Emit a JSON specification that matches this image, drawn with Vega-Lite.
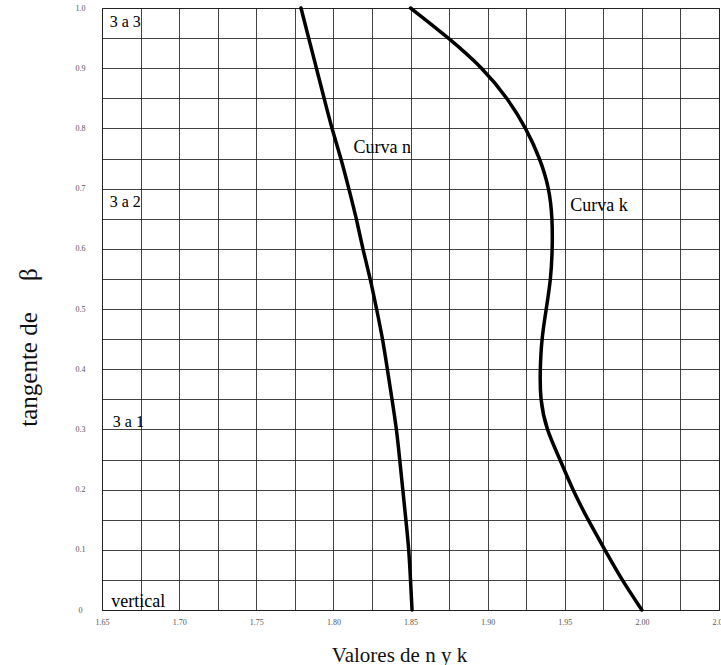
{
  "$schema": "https://vega.github.io/schema/vega-lite/v6.json",
  "width": 617,
  "height": 602,
  "autosize": {"type": "none"},
  "padding": {"left": 102, "top": 8, "right": 2, "bottom": 55},
  "background": "white",
  "config": {
    "view": {"stroke": "#222", "strokeWidth": 1},
    "font": "Liberation Serif"
  },
  "encoding": {
    "x": {
      "field": "x", "type": "quantitative",
      "scale": {"domain": [1.65, 2.05], "nice": false, "zero": false},
      "axis": {
        "values": [1.65, 1.675, 1.7, 1.725, 1.75, 1.775, 1.8, 1.825, 1.85, 1.875, 1.9, 1.925, 1.95, 1.975, 2.0, 2.025, 2.05],
        "labelExpr": "abs(datum.value*20 - round(datum.value*20)) < 0.01 ? format(datum.value, '.2f') : ''",
        "grid": true, "gridColor": "#222", "gridWidth": 1, "gridOpacity": 0.85,
        "ticks": false, "domain": true, "domainColor": "#222",
        "labelFont": "Liberation Serif", "labelFontSize": 8, "labelColor": "#555", "labelPadding": 8,
        "labelFlush": false, "labelOverlap": false,
        "title": "Valores de n y k", "titleFont": "Liberation Serif", "titleFontSize": 21, "titleFontWeight": "normal",
        "titleColor": "#111", "titleX": 297, "titleY": 45, "titleBaseline": "middle", "titleAlign": "center"
      }
    },
    "y": {
      "field": "y", "type": "quantitative",
      "scale": {"domain": [0, 1], "nice": false},
      "axis": {
        "values": [0, 0.05, 0.1, 0.15, 0.2, 0.25, 0.3, 0.35, 0.4, 0.45, 0.5, 0.55, 0.6, 0.65, 0.7, 0.75, 0.8, 0.85, 0.9, 0.95, 1.0],
        "labelExpr": "datum.value == 0 ? '0' : (abs(datum.value*10 - round(datum.value*10)) < 0.01 ? format(datum.value, '.1f') : '')",
        "grid": true, "gridColor": "#222", "gridWidth": 1, "gridOpacity": 0.85,
        "ticks": false, "domain": true, "domainColor": "#222",
        "labelFont": "Liberation Serif", "labelFontSize": 8, "labelColor": "#555", "labelPadding": 22,
        "labelAlign": "center", "labelFlush": false, "labelOverlap": false,
        "title": "tangente de\u00a0\u00a0\u00a0\u00a0\u00a0β", "titleFont": "Liberation Serif", "titleFontSize": 25, "titleFontWeight": "normal",
        "titleColor": "#111", "titleAngle": -90, "titleX": -74, "titleY": 339, "titleBaseline": "middle", "titleAlign": "center"
      }
    }
  },
  "layer": [
    {
      "data": {
        "values": [
          {"curva": "n", "x": 1.779, "y": 1.0},
          {"curva": "n", "x": 1.784, "y": 0.95},
          {"curva": "n", "x": 1.789, "y": 0.9},
          {"curva": "n", "x": 1.794, "y": 0.85},
          {"curva": "n", "x": 1.799, "y": 0.8},
          {"curva": "n", "x": 1.805, "y": 0.75},
          {"curva": "n", "x": 1.810, "y": 0.7},
          {"curva": "n", "x": 1.815, "y": 0.65},
          {"curva": "n", "x": 1.819, "y": 0.6},
          {"curva": "n", "x": 1.824, "y": 0.55},
          {"curva": "n", "x": 1.828, "y": 0.5},
          {"curva": "n", "x": 1.832, "y": 0.45},
          {"curva": "n", "x": 1.835, "y": 0.4},
          {"curva": "n", "x": 1.838, "y": 0.35},
          {"curva": "n", "x": 1.841, "y": 0.3},
          {"curva": "n", "x": 1.843, "y": 0.25},
          {"curva": "n", "x": 1.845, "y": 0.2},
          {"curva": "n", "x": 1.847, "y": 0.15},
          {"curva": "n", "x": 1.849, "y": 0.1},
          {"curva": "n", "x": 1.850, "y": 0.05},
          {"curva": "n", "x": 1.851, "y": 0.0},
          {"curva": "k", "x": 1.850, "y": 1.0},
          {"curva": "k", "x": 1.875, "y": 0.95},
          {"curva": "k", "x": 1.897, "y": 0.9},
          {"curva": "k", "x": 1.913, "y": 0.85},
          {"curva": "k", "x": 1.925, "y": 0.8},
          {"curva": "k", "x": 1.934, "y": 0.75},
          {"curva": "k", "x": 1.940, "y": 0.7},
          {"curva": "k", "x": 1.942, "y": 0.65},
          {"curva": "k", "x": 1.942, "y": 0.6},
          {"curva": "k", "x": 1.941, "y": 0.55},
          {"curva": "k", "x": 1.938, "y": 0.5},
          {"curva": "k", "x": 1.935, "y": 0.45},
          {"curva": "k", "x": 1.934, "y": 0.4},
          {"curva": "k", "x": 1.934, "y": 0.35},
          {"curva": "k", "x": 1.938, "y": 0.3},
          {"curva": "k", "x": 1.947, "y": 0.25},
          {"curva": "k", "x": 1.955, "y": 0.2},
          {"curva": "k", "x": 1.965, "y": 0.15},
          {"curva": "k", "x": 1.976, "y": 0.1},
          {"curva": "k", "x": 1.987, "y": 0.05},
          {"curva": "k", "x": 2.000, "y": 0.0}
        ]
      },
      "mark": {"type": "line", "color": "black", "strokeWidth": 3.5, "interpolate": "basis", "strokeCap": "round"},
      "encoding": {
        "detail": {"field": "curva"},
        "order": {"field": "y", "type": "quantitative"}
      }
    },
    {
      "data": {
        "values": [
          {"texto": "3 a 3", "x": 1.655, "y": 0.977, "tam": 16},
          {"texto": "3 a 2", "x": 1.655, "y": 0.678, "tam": 16},
          {"texto": "3 a 1", "x": 1.657, "y": 0.312, "tam": 16},
          {"texto": "vertical", "x": 1.656, "y": 0.014, "tam": 18},
          {"texto": "Curva n", "x": 1.813, "y": 0.767, "tam": 18},
          {"texto": "Curva k", "x": 1.9535, "y": 0.671, "tam": 18}
        ]
      },
      "mark": {"type": "text", "align": "left", "baseline": "middle", "font": "Liberation Serif", "color": "black"},
      "encoding": {
        "text": {"field": "texto"},
        "size": {"field": "tam", "type": "quantitative", "scale": null, "legend": null}
      }
    }
  ]
}
